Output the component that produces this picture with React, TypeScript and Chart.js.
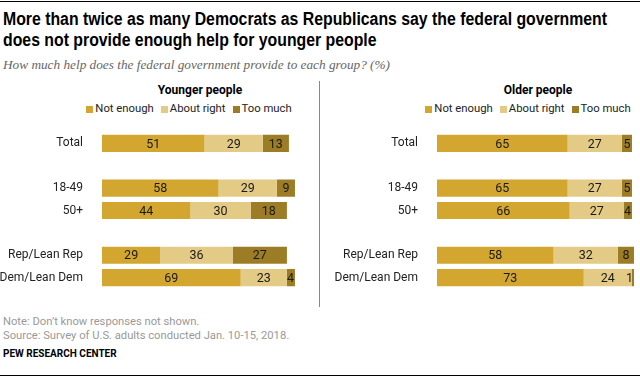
import React, { useEffect, useRef } from "react";
import { Chart, registerables } from "chart.js";

Chart.register(...registerables);

const categories = ["Total", "", "18-49", "50+", "", "Rep/Lean Rep", "Dem/Lean Dem"];
const seriesNames = ["Not enough", "About right", "Too much"];
const seriesColors = ["#D2A62F", "#E3CA85", "#9C7C24"];

const youngNotEnough = [51, null, 58, 44, null, 29, 69];
const youngAboutRight = [29, null, 29, 30, null, 36, 23];
const youngTooMuch = [13, null, 9, 18, null, 27, 4];

const oldNotEnough = [65, null, 65, 66, null, 58, 73];
const oldAboutRight = [27, null, 27, 27, null, 32, 24];
const oldTooMuch = [5, null, 5, 4, null, 8, 1];

const titleLines = [
  "More than twice as many Democrats as Republicans say the federal government",
  "does not provide enough help for younger people",
];
const subtitleText = "How much help does the federal government provide to each group? (%)";

const LABEL_FONT = 'Roboto, "Liberation Sans", Arial, sans-serif';
const TITLE_FONT = 'bold 18px "Liberation Sans", Arial, sans-serif';
const SUB_FONT = 'italic 12.5px "Liberation Serif", "DejaVu Serif", serif';

function measure(font: string, text: string): number {
  const c = document.createElement("canvas");
  const ctx = c.getContext("2d");
  if (!ctx) return 1;
  ctx.font = font;
  return ctx.measureText(text).width || 1;
}

const valueLabels = {
  id: "valueLabels",
  afterDatasetsDraw(chart: any) {
    const ctx = chart.ctx;
    ctx.save();
    ctx.font = `12.5px ${LABEL_FONT}`;
    ctx.fillStyle = "#1a1a1a";
    ctx.textBaseline = "middle";
    ctx.textAlign = "center";
    chart.data.datasets.forEach((ds: any, i: number) => {
      const meta = chart.getDatasetMeta(i);
      meta.data.forEach((el: any, j: number) => {
        const v = ds.data[j];
        if (v == null) return;
        const p = el.getProps(["x", "y", "base"], true);
        const left = Math.min(p.x, p.base);
        const right = Math.max(p.x, p.base);
        const txt = String(v);
        const w = ctx.measureText(txt).width;
        let cx = (left + right) / 2;
        if (w + 2 > right - left) cx = right - w / 2 - 1;
        ctx.fillText(txt, cx, p.y + 1);
      });
    });
    ctx.restore();
  },
};

type PanelProps = {
  left: number;
  width: number;
  axisWidth: number;
  padRight: number;
  series: (number | null)[][];
};

function Panel({ left, width, axisWidth, padRight, series }: PanelProps) {
  const ref = useRef<HTMLCanvasElement | null>(null);
  useEffect(() => {
    if (!ref.current) return;
    const chart = new Chart(ref.current, {
      type: "bar",
      data: {
        labels: categories,
        datasets: series.map((d, i) => ({
          label: seriesNames[i],
          data: d,
          backgroundColor: seriesColors[i],
          borderWidth: 0,
          barPercentage: 1,
          categoryPercentage: 0.764,
        })),
      },
      options: {
        indexAxis: "y",
        responsive: false,
        animation: false,
        layout: { padding: { left: 0, right: padRight, top: 0, bottom: 0 } },
        plugins: { legend: { display: false }, tooltip: { enabled: false }, title: { display: false } },
        scales: {
          x: { stacked: true, min: 0, max: 100, display: false },
          y: {
            stacked: true,
            grid: { display: false },
            border: { display: false },
            ticks: { padding: 11, color: "#222", font: { family: LABEL_FONT, size: 12 } },
            afterFit: (scale: any) => {
              scale.width = axisWidth;
            },
          },
        },
      } as any,
      plugins: [valueLabels],
    });
    return () => chart.destroy();
  }, []);
  return (
    <canvas
      ref={ref}
      width={width}
      height={193}
      style={{ position: "absolute", left, top: 114, width, height: 193 }}
    />
  );
}

function Legend({ center }: { center: number }) {
  return (
    <div
      style={{
        position: "absolute",
        left: center - 150,
        width: 300,
        top: 102,
        display: "flex",
        justifyContent: "center",
        gap: 7,
        fontFamily: LABEL_FONT,
        fontSize: 11.3,
        color: "#222",
        lineHeight: "14px",
      }}
    >
      {seriesNames.map((n, i) => (
        <span key={n} style={{ display: "flex", alignItems: "center" }}>
          <span style={{ display: "inline-block", width: 7, height: 7, background: seriesColors[i], marginRight: 2 }} />
          {n}
        </span>
      ))}
    </div>
  );
}

export default function App() {
  const t1 = measure(TITLE_FONT, titleLines[0]);
  const tScale = 604 / t1;
  const s1 = measure(SUB_FONT, subtitleText);
  const sScale = 387 / s1;
  return (
    <div
      style={{
        position: "fixed",
        left: 0,
        top: 0,
        width: 640,
        height: 377,
        background: "#fff",
        overflow: "hidden",
      }}
    >
      <div style={{ position: "absolute", left: 0, top: 1, width: 640, height: 1, background: "#000" }} />
      <div
        style={{
          position: "absolute",
          left: 3,
          top: 9,
          font: TITLE_FONT,
          lineHeight: "21px",
          color: "#000",
          whiteSpace: "nowrap",
          transform: `scaleX(${tScale})`,
          transformOrigin: "0 0",
        }}
      >
        {titleLines[0]}
        <br />
        {titleLines[1]}
      </div>
      <div
        style={{
          position: "absolute",
          left: 3,
          top: 58,
          font: SUB_FONT,
          color: "#666",
          whiteSpace: "nowrap",
          transform: `scaleX(${sScale})`,
          transformOrigin: "0 0",
        }}
      >
        {subtitleText}
      </div>
      <div
        style={{
          position: "absolute",
          left: 120,
          width: 160,
          top: 83,
          textAlign: "center",
          fontFamily: LABEL_FONT,
          fontWeight: "bold",
          fontSize: 12,
          color: "#000",
        }}
      >
        Younger people
      </div>
      <div
        style={{
          position: "absolute",
          left: 458,
          width: 160,
          top: 83,
          textAlign: "center",
          fontFamily: LABEL_FONT,
          fontWeight: "bold",
          fontSize: 12,
          color: "#000",
        }}
      >
        Older people
      </div>
      <Legend center={189} />
      <Legend center={528} />
      <div style={{ position: "absolute", left: 319, top: 81, width: 1, height: 226, background: "#888" }} />
      <Panel left={0} width={317} axisWidth={102} padRight={14} series={[youngNotEnough, youngAboutRight, youngTooMuch]} />
      <Panel left={323} width={317} axisWidth={114} padRight={2} series={[oldNotEnough, oldAboutRight, oldTooMuch]} />
      <div
        style={{
          position: "absolute",
          left: 3,
          top: 315,
          fontFamily: LABEL_FONT,
          fontSize: 11.2,
          lineHeight: "14px",
          color: "#999",
          whiteSpace: "nowrap",
        }}
      >
        Note: Don’t know responses not shown.
        <br />
        Source: Survey of U.S. adults conducted Jan. 10-15, 2018.
      </div>
      <div
        style={{
          position: "absolute",
          left: 3,
          top: 348,
          fontFamily: LABEL_FONT,
          fontWeight: "bold",
          fontSize: 10,
          color: "#000",
          whiteSpace: "nowrap",
        }}
      >
        PEW RESEARCH CENTER
      </div>
      <div style={{ position: "absolute", left: 0, top: 375, width: 640, height: 1, background: "#000" }} />
    </div>
  );
}
